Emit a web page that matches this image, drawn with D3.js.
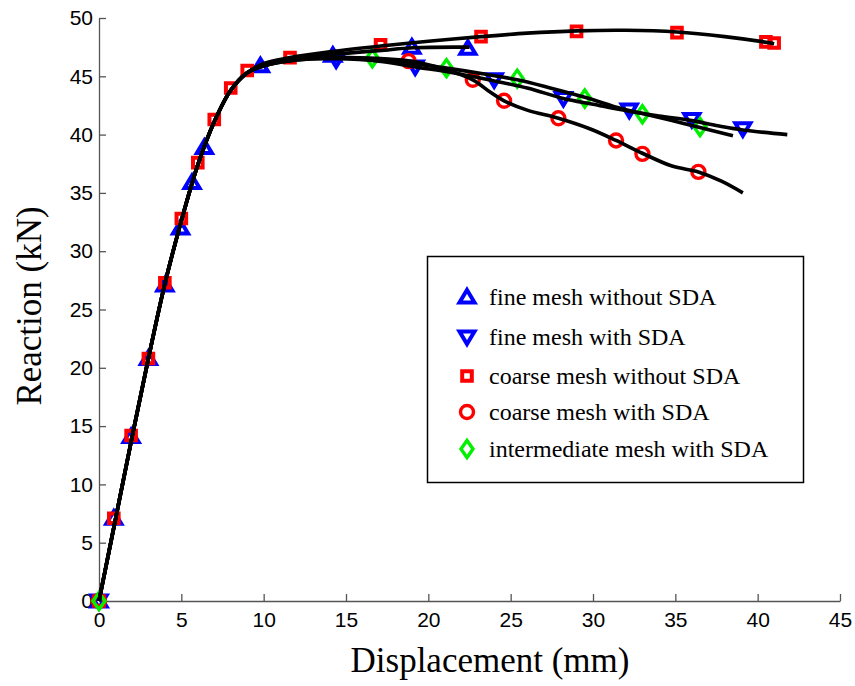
<!DOCTYPE html>
<html>
<head>
<meta charset="utf-8">
<script src="https://cdn.jsdelivr.net/npm/d3@7"></script>
<style>
  body { margin: 0; background: #fff; }
  svg { display: block; }
</style>
</head>
<body>
<script>
const WIDTH = 855;
const HEIGHT = 686;

// curves (displacement mm, reaction kN)
const riseLine = [[0, 0], [1, 7], [2, 14], [3, 20.8], [4, 27.2], [5, 32.6], [6, 37.4], [7, 41.1], [8, 43.8], [9, 45.3]];
const fineNoSdaLine = [[10, 45.9], [12, 46.6], [14.2, 46.9], [17, 47.2], [19.1, 47.45], [22.5, 47.5]];
const fineSdaLine = [[10, 45.9], [12, 46.4], [14.4, 46.5], [17, 46.3], [19.2, 45.8], [21.5, 45.3], [24, 44.6], [26, 44], [28.2, 43.1], [30, 42.6], [32.2, 42.0], [34, 41.6], [36, 41.2], [37.8, 40.7], [39.1, 40.4], [41.8, 40.0]];
const coarseNoSdaLine = [[10, 46.1], [11.6, 46.6], [14, 47.1], [17.1, 47.6], [20, 48], [23.2, 48.4], [26, 48.7], [29, 48.9], [32, 48.95], [35.1, 48.8], [38, 48.4], [40.6, 47.9], [41, 47.8]];
const coarseSdaLine = [[10, 45.9], [12, 46.5], [15, 46.6], [18.9, 46.3], [21, 45.6], [22.7, 44.7], [23.8, 43.6], [24.6, 42.9], [26, 42.1], [27.9, 41.4], [29.8, 40.5], [31.4, 39.5], [33, 38.4], [34.8, 37.3], [36.4, 36.8], [37.8, 36], [39.1, 35.0]];
const interSdaLine = [[10, 45.9], [12, 46.4], [14.5, 46.6], [16.6, 46.5], [19, 46.1], [21.1, 45.7], [23.4, 45.2], [25.4, 44.7], [27.4, 44], [29.5, 43.2], [31.3, 42.4], [33, 41.8], [34.8, 41.2], [36.5, 40.6], [38.5, 39.9]];

// marker positions
const fineNoSdaMarks = [[0, 0], [0.9, 7.1], [1.95, 14.1], [3, 20.8], [4, 27.1], [4.95, 32], [5.65, 35.9], [6.4, 38.9], [9.8, 45.9], [14.2, 46.8], [19.0, 47.5], [22.4, 47.4]];
const fineSdaMarks = [[0, 0], [14.4, 46.4], [19.2, 45.8], [24, 44.7], [28.2, 43.1], [32.2, 42.1], [36, 41.3], [39.1, 40.5]];
const coarseNoSdaMarks = [[0, 0], [0.9, 7.1], [1.95, 14.2], [3, 20.8], [4, 27.3], [5, 32.8], [6, 37.6], [7, 41.3], [8, 44], [9, 45.5], [11.6, 46.6], [17.1, 47.7], [23.2, 48.4], [29.0, 48.85], [35.1, 48.75], [40.5, 47.95], [41.0, 47.85]];
const coarseSdaMarks = [[0, 0], [18.8, 46.3], [22.7, 44.7], [24.6, 42.9], [27.9, 41.4], [31.4, 39.5], [33, 38.35], [36.4, 36.8]];
const interSdaMarks = [[0, 0], [16.6, 46.55], [21.1, 45.7], [25.4, 44.8], [29.5, 43.1], [33, 41.75], [36.5, 40.65]];

const seriesNames = ["fine mesh without SDA", "fine mesh with SDA", "coarse mesh without SDA", "coarse mesh with SDA", "intermediate mesh with SDA"];
const xTicks = [0, 5, 10, 15, 20, 25, 30, 35, 40, 45];
const yTicks = [0, 5, 10, 15, 20, 25, 30, 35, 40, 45, 50];

const series = [
    { name: seriesNames[0], line: riseLine.concat(fineNoSdaLine), marks: fineNoSdaMarks, shape: "up", color: "#0000ff" },
    { name: seriesNames[1], line: riseLine.concat(fineSdaLine), marks: fineSdaMarks, shape: "down", color: "#0000ff" },
    { name: seriesNames[2], line: riseLine.concat(coarseNoSdaLine), marks: coarseNoSdaMarks, shape: "square", color: "#ff0000" },
    { name: seriesNames[3], line: riseLine.concat(coarseSdaLine), marks: coarseSdaMarks, shape: "circle", color: "#ff0000" },
    { name: seriesNames[4], line: riseLine.concat(interSdaLine), marks: interSdaMarks, shape: "diamond", color: "#00f000" }
];

const svg = d3.select("body").append("svg")
    .attr("width", WIDTH)
    .attr("height", HEIGHT);

const x = d3.scaleLinear().domain([0, 45]).range([99, 840]);
const y = d3.scaleLinear().domain([0, 50]).range([601, 18]);

// marker shapes, centred on 0,0
function markerPath(shape) {
    switch (shape) {
        case "up": return "M0,-7L7.5,5.5L-7.5,5.5Z";
        case "down": return "M0,7L7.5,-5.5L-7.5,-5.5Z";
        case "square": return "M-4.8,-4.8H4.8V4.8H-4.8Z";
        case "diamond": return "M0,-8.5L6,0L0,8.5L-6,0Z";
        default: return null;
    }
}

function drawMarker(g, shape, color) {
    if (shape === "circle") {
        g.append("circle").attr("r", 6.5)
            .attr("fill", "none").attr("stroke", color).attr("stroke-width", 3.4);
    } else {
        g.append("path").attr("d", markerPath(shape))
            .attr("fill", "none").attr("stroke", color)
            .attr("stroke-width", shape === "diamond" ? 3.4 : 4)
            .attr("stroke-linejoin", "miter");
    }
}

// axes
const xAxis = svg.append("g")
    .attr("transform", "translate(0," + y(0) + ")")
    .call(d3.axisBottom(x).tickValues(xTicks).tickSizeInner(-7).tickSizeOuter(0).tickPadding(11));

const yAxis = svg.append("g")
    .attr("transform", "translate(" + x(0) + ",0)")
    .call(d3.axisLeft(y).tickValues(yTicks).tickSizeInner(-7).tickSizeOuter(0).tickPadding(6));

[xAxis, yAxis].forEach(a => {
    a.select(".domain").attr("stroke", "#555").attr("stroke-width", 1.3);
    a.selectAll(".tick line").attr("stroke", "#555").attr("stroke-width", 1.3);
    a.selectAll(".tick text")
        .attr("fill", "#000")
        .style("font-family", "'Liberation Sans', Arial, sans-serif")
        .style("font-size", "21px");
});

// markers under the curves
series.forEach(s => {
    const g = svg.append("g").attr("class", "marks");
    s.marks.forEach(d => {
        const m = g.append("g").attr("transform", "translate(" + x(d[0]) + "," + y(d[1]) + ")");
        drawMarker(m, s.shape, s.color);
    });
});

const line = d3.line()
    .x(d => x(d[0]))
    .y(d => y(d[1]))
    .curve(d3.curveCatmullRom.alpha(0.5));

svg.append("g").selectAll("path.curve")
    .data(series)
    .enter().append("path")
    .attr("class", "curve")
    .attr("d", d => line(d.line))
    .attr("fill", "none")
    .attr("stroke", "#000")
    .attr("stroke-width", 3.6)
    .attr("stroke-linejoin", "round");

// axis titles
svg.append("text")
    .attr("x", 490)
    .attr("y", 672)
    .attr("text-anchor", "middle")
    .style("font-family", "'Liberation Serif', 'Times New Roman', serif")
    .style("font-size", "35px")
    .text("Displacement (mm)");

svg.append("text")
    .attr("transform", "translate(41,306) rotate(-90)")
    .attr("text-anchor", "middle")
    .style("font-family", "'Liberation Serif', 'Times New Roman', serif")
    .style("font-size", "35px")
    .text("Reaction (kN)");

// legend
const legend = svg.append("g").attr("class", "legend");
legend.append("rect")
    .attr("x", 427.5).attr("y", 256.5)
    .attr("width", 376).attr("height", 226)
    .attr("fill", "#fff").attr("stroke", "#000").attr("stroke-width", 1.5);

const legendY = [297, 337, 376, 412, 449];
series.forEach((s, i) => {
    const m = legend.append("g").attr("transform", "translate(467," + legendY[i] + ")");
    drawMarker(m, s.shape, s.color);
    legend.append("text")
        .attr("x", 489)
        .attr("y", legendY[i])
        .attr("dy", "0.33em")
        .style("font-family", "'Liberation Serif', 'Times New Roman', serif")
        .style("font-size", "24px")
        .text(s.name);
});
</script>
</body>
</html>
